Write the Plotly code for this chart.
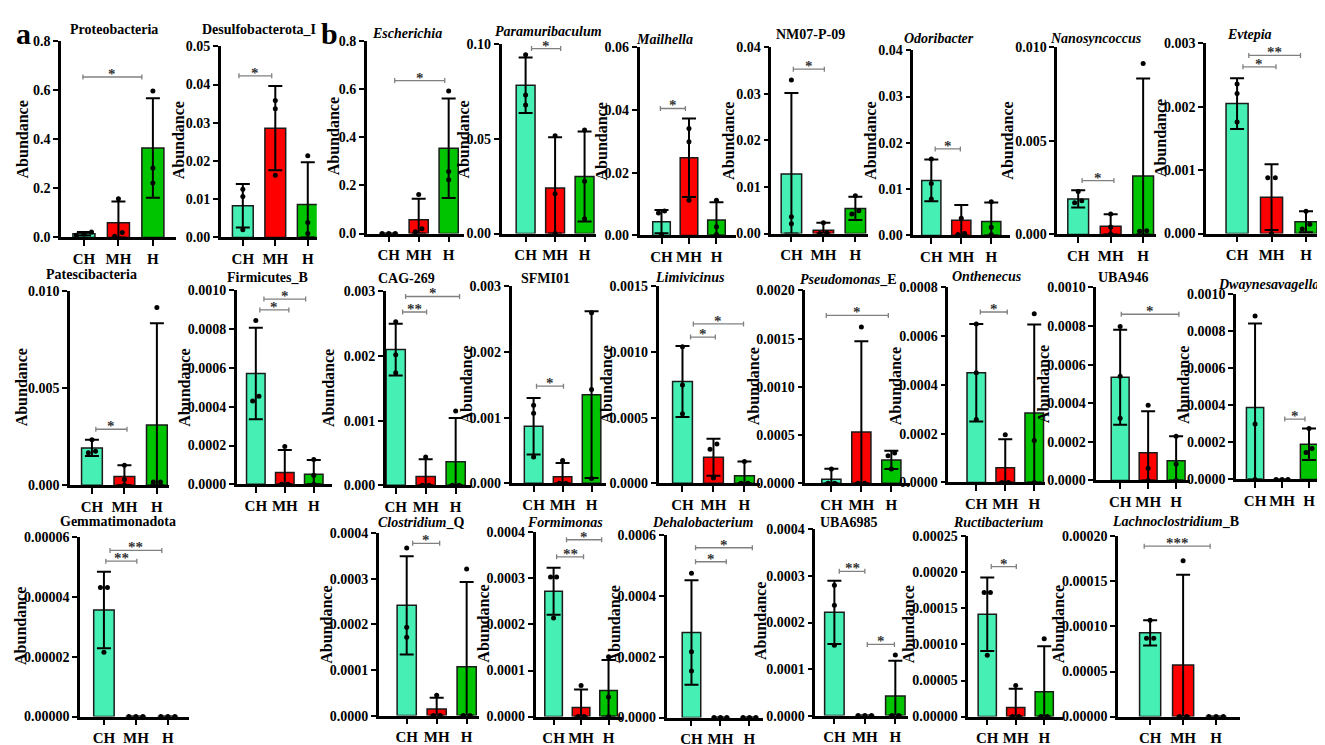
import plotly.graph_objects as go

W, H = 1325, 745
FONT = 'Liberation Serif'
TICK_SIZE = 14

groups = ['CH', 'MH', 'H']
group_colors = ['#46F0B4', '#FF0000', '#00C400']

# 패널 순서: 1행 a(2) + b(7), 2행 9개, 3행 7개
taxa = ['Proteobacteria', 'Desulfobacterota_I', '<i>Escherichia</i>', '<i>Paramuribaculum</i>',
        '<i>Mailhella</i>', 'NM07-P-09', '<i>Odoribacter</i>', '<i>Nanosyncoccus</i>', '<i>Evtepia</i>',
        'Patescibacteria', 'Firmicutes_B', 'CAG-269', 'SFMI01', '<i>Limivicinus</i>',
        '<i>Pseudomonas</i>_E', '<i>Onthenecus</i>', 'UBA946', '<i>Dwaynesavagella</i>',
        'Gemmatimonadota', '<i>Clostridium</i>_Q', '<i>Formimonas</i>', '<i>Dehalobacterium</i>',
        'UBA6985', '<i>Ructibacterium</i>', '<i>Lachnoclostridium</i>_B']

# y축 최대값 / 눈금 간격 / 소수 자리
y_max = [0.8, 0.05, 0.8, 0.10, 0.06, 0.04, 0.04, 0.010, 0.003,
         0.010, 0.0010, 0.003, 0.003, 0.0015, 0.0020, 0.0008, 0.0010, 0.0010,
         0.00006, 0.0004, 0.0004, 0.0006, 0.0004, 0.00025, 0.00020]
y_step = [0.2, 0.01, 0.2, 0.05, 0.02, 0.01, 0.01, 0.005, 0.001,
          0.005, 0.0002, 0.001, 0.001, 0.0005, 0.0005, 0.0002, 0.0002, 0.0002,
          0.00002, 0.0001, 0.0001, 0.0002, 0.0001, 0.00005, 0.00005]
y_dec = [1, 2, 1, 2, 2, 2, 2, 3, 3,
         3, 4, 3, 3, 4, 4, 4, 4, 4,
         5, 4, 4, 4, 4, 5, 5]

# 평균값
mean_ch = [0.015, 0.0083, 0.0, 0.0784, 0.0044, 0.0128, 0.0119, 0.0019, 0.00205,
           0.00193, 0.000571, 0.0021, 0.00087, 0.000776, 0.0000438, 0.00045, 0.000534, 0.000389,
           0.0000357, 0.000242, 0.000272, 0.00028, 0.000222, 0.000142, 0.0000929]
mean_mh = [0.06, 0.0286, 0.057, 0.0241, 0.0248, 0.0007, 0.0033, 0.00044, 0.000574,
           0.00045, 0.0000605, 0.000136, 0.0001, 0.000199, 0.000533, 0.0000605, 0.000144, 0.0,
           0.0, 0.0000144, 0.0000199, 0.0, 0.0, 0.0000127, 0.0000573]
mean_h = [0.365, 0.0086, 0.355, 0.0302, 0.0049, 0.0054, 0.003, 0.00313, 0.000186,
          0.00311, 0.0000521, 0.000363, 0.00135, 0.0000572, 0.000243, 0.000285, 0.000102, 0.00019,
          0.0, 0.000107, 0.0000568, 0.0, 0.0000421, 0.0000344, 0.0]

# 표준편차
sd_ch = [0.007, 0.0057, 0.0, 0.0147, 0.0037, 0.0174, 0.0045, 0.00046, 0.0004,
         0.00042, 0.000236, 0.0004, 0.00043, 0.00027, 0.000108, 0.0002, 0.000246, 0.000453,
         0.0000128, 0.000108, 0.000051, 0.000172, 0.000068, 0.000051, 0.000014]
sd_mh = [0.087, 0.011, 0.088, 0.0268, 0.0125, 0.0016, 0.0033, 0.00064, 0.00052,
         0.00059, 0.000116, 0.000267, 0.00021, 0.00014, 0.00094, 0.000117, 0.000215, 0.0,
         0.0, 0.000025, 0.000039, 0.0, 0.0, 0.000026, 0.0000999]
sd_h = [0.203, 0.0111, 0.207, 0.0238, 0.0057, 0.0025, 0.0041, 0.0052, 0.000166,
        0.00524, 0.000074, 0.00068, 0.00127, 0.00011, 0.000094, 0.000363, 0.000127, 0.000085,
        0.0, 0.000186, 0.000066, 0.0, 0.000076, 0.0000633, 0.0]

# 개별 샘플 값 (그룹당 3개)
dots_ch = [[0.022, 0.014, 0.009], [0.0126, 0.0107, 0.002], [0, 0, 0], [0.0945, 0.0733, 0.068],
           [0.0078, 0.0072, 0.0003], [0.033, 0.0036, 0.0021], [0.0165, 0.0112, 0.0079],
           [0.0023, 0.0018, 0.0017], [0.00236, 0.00221, 0.00176],
           [0.00235, 0.00176, 0.00168], [0.000845, 0.000454, 0.00043], [0.00253, 0.00202, 0.00174],
           [0.00119, 0.00107, 0.0004], [0.00104, 0.00075, 0.00053], [0.00015, 0, 0],
           [0.00065, 0.00045, 0.000258], [0.000797, 0.00054, 0.000322], [0.000882, 0.000299, 0],
           [0.0000432, 0.0000432, 0.0000215], [0.000368, 0.000194, 0.000172],
           [0.000303, 0.000303, 0.000214], [0.000475, 0.000217, 0.000153],
           [0.00028, 0.000237, 0.000151], [0.000172, 0.000172, 0.000085],
           [0.000107, 0.000087, 0.000087]]
dots_mh = [[0.158, 0.02, 0.005], [0.0358, 0.0337, 0.0163], [0.163, 0.02, 0.007], [0.0517, 0.021, 0],
           [0.0341, 0.0299, 0.0112], [0.0023, 0.0001, 0], [0.0037, 0.0004, 0.0002],
           [0.0011, 0.0004, 0.00003], [0.00088, 0.00088, 0],
           [0.00104, 0.0003, 0], [0.000195, 0, 0], [0.000439, 0, 0], [0.00035, 0, 0],
           [0.0003, 0.00026, 0.00004], [0.00162, 0, 0], [0.000195, 0, 0], [0.00039, 0.0000627, 0],
           [0, 0, 0], [0, 0, 0], [0.0000445, 0, 0], [0.0000675, 0, 0], [0, 0, 0], [0, 0, 0],
           [0.000043, 0, 0], [0.000173, 0, 0]]
dots_h = [[0.598, 0.283, 0.222], [0.0214, 0.0039, 0.001], [0.594, 0.258, 0.224],
          [0.0548, 0.0276, 0.0078], [0.0112, 0.0028, 0.0003], [0.0081, 0.0049, 0.0042],
          [0.0073, 0.0018, 0.0002], [0.00913, 0.0002, 0.00018], [0.00035, 0.000145, 0.00007],
          [0.00916, 0.00017, 0.00017], [0.000128, 0.000047, 0], [0.00115, 0, 0],
          [0.0026, 0.00143, 0.000075], [0.000167, 0, 0], [0.000314, 0.000287, 0.00015],
          [0.000692, 0.000172, 0], [0.000229, 0.0000847, 0], [0.000275, 0.000167, 0.000146],
          [0, 0, 0], [0.000322, 0, 0], [0.00013, 0.0000426, 0], [0, 0, 0], [0.00013, 0, 0],
          [0.000108, 0, 0], [0, 0, 0]]

# 유의성 표시: (시작 x, 끝 x, y, 라벨)
sig = [[(-0.03, 1.68, 0.655, '*')],
       [(-0.12, 0.89, 0.0423, '*')],
       [(0.2, 1.87, 0.637, '*')],
       [(0.2, 1.19, 0.0978, '*')],
       [(-0.04, 0.87, 0.0405, '*')],
       [(0.06, 1.03, 0.0353, '*')],
       [(0.13, 0.97, 0.0187, '*')],
       [(0.12, 1.1, 0.00288, '*')],
       [(0.17, 1.13, 0.00263, '*'), (0.34, 1.84, 0.00281, '**')],
       [(0.12, 1.08, 0.00289, '*')],
       [(0.14, 1.14, 0.000899, '*'), (0.28, 1.72, 0.000955, '*')],
       [(0.23, 1.03, 0.00268, '**'), (0.33, 2.13, 0.00292, '*')],
       [(0.1, 1.03, 0.00148, '*')],
       [(0.26, 1.06, 0.001114, '*'), (0.35, 1.97, 0.001214, '*')],
       [(-0.17, 1.9, 0.00174, '*')],
       [(0.14, 1.07, 0.000699, '*')],
       [(0.04, 2.1, 0.000861, '*')],
       [(1.1, 1.85, 0.000326, '*')],
       [(0.06, 1.03, 0.000052, '**'), (0.19, 1.81, 0.0000556, '**')],
       [(0.2, 1.1, 0.000378, '*')],
       [(0.11, 1.09, 0.000347, '**'), (0.47, 1.75, 0.000384, '*')],
       [(0.14, 1.2, 0.000513, '*'), (0.14, 2.1, 0.000559, '*')],
       [(0.16, 1.0, 0.00031, '**'), (1.08, 1.97, 0.000153, '*')],
       [(0.14, 1.02, 0.000208, '*')],
       [(-0.18, 1.82, 0.000189, '***')]]

# 패널 위치 (픽셀): 왼쪽, 오른쪽, 위, 아래(0), CH 중심, H 중심
panel_px = [(52, 167, 27, 227, 75, 144), (212, 308, 32, 227, 234, 299), (358, 455, 27, 223, 380, 440),
            (493, 587, 30, 223, 517, 576), (631, 728, 33, 225, 653, 708), (763, 860, 33, 223, 783, 847),
            (905, 1002, 36, 225, 923, 983), (1049, 1148, 33, 224, 1070, 1135), (1198, 1310, 29, 223, 1229, 1298),
            (61, 160, 282, 480, 83, 148), (228, 323, 281, 479, 247, 305), (377, 462, 282, 480, 387, 447),
            (503, 597, 277, 478, 525, 583), (650, 752, 277, 478, 674, 736), (797, 902, 281, 478, 823, 883),
            (940, 1037, 278, 477, 968, 1026), (1088, 1182, 278, 475, 1112, 1168), (1228, 1318, 285, 474, 1247, 1301),
            (71, 180, 533, 716, 95, 159), (370, 470, 529, 715, 398, 458), (527, 613, 528, 716, 545, 600),
            (658, 755, 531, 717, 683, 741), (807, 900, 525, 715, 826, 887), (960, 1055, 532, 716, 979, 1036),
            (1110, 1232, 532, 716, 1142, 1208)]
# 제목 위치 (픽셀 중심)
title_px = [(105, 15), (250, 15), (398, 19), (540, 17), (656, 25), (802, 20), (931, 24), (1088, 24), (1241, 20),
            (83, 265), (259, 268), (398, 269), (537, 269), (682, 268), (840, 270), (979, 267), (1115, 268), (1260, 275),
            (109, 517), (412, 518), (556, 518), (694, 518), (841, 518), (990, 518), (1167, 517)]
# y축 제목 위치 (픽셀 중심)
ytitle_px = [(13, 127), (170, 128), (325, 124), (459, 127), (599, 129), (720, 128), (862, 128), (999, 128), (1153, 126),
             (12, 380), (177, 380), (320, 381), (460, 377), (600, 377), (752, 379), (897, 379), (1043, 377), (1182, 378),
             (12, 623), (325, 622), (478, 621), (613, 622), (752, 618), (903, 622), (1052, 622)]


def spread(vals, span):
    # 겹치는 점을 옆으로 벌림
    xs = [0.0] * len(vals)
    order = sorted(range(len(vals)), key=lambda k: vals[k])
    clusters = []
    for k in order:
        if clusters and abs(vals[k] - vals[clusters[-1][-1]]) < 0.03 * span:
            clusters[-1].append(k)
        else:
            clusters.append([k])
    for c in clusters:
        for j, k in enumerate(c):
            xs[k] = (j - (len(c) - 1) / 2) * 0.22
    return xs


fig = go.Figure()
annotations = []
shapes = []

for i, name in enumerate(taxa):
    n = '' if i == 0 else str(i + 1)
    xa, ya = 'x' + n, 'y' + n
    left, right, top, bottom, c0, c2 = panel_px[i]
    step = (c2 - c0) / 2

    means = [mean_ch[i], mean_mh[i], mean_h[i]]
    sds = [sd_ch[i], sd_mh[i], sd_h[i]]
    fig.add_trace(go.Bar(
        x=[0, 1, 2], y=means, width=0.64,
        marker=dict(color=group_colors, line=dict(color='#1a1a1a', width=1.5)),
        error_y=dict(type='data', array=sds, arrayminus=[min(s, m) for s, m in zip(sds, means)],
                     color='black', thickness=2, width=7),
        xaxis=xa, yaxis=ya, showlegend=False, hoverinfo='skip'))

    xs, ys = [], []
    for g, vals in enumerate([dots_ch[i], dots_mh[i], dots_h[i]]):
        offs = spread(vals, y_max[i])
        xs += [g + o for o in offs]
        ys += vals
    fig.add_trace(go.Scatter(x=xs, y=ys, mode='markers', marker=dict(color='black', size=5),
                             cliponaxis=False, xaxis=xa, yaxis=ya, showlegend=False, hoverinfo='skip'))

    nt = int(round(y_max[i] / y_step[i]))
    tv = [k * y_step[i] for k in range(nt + 1)]
    tt = [f'{v:.{y_dec[i]}f}' for v in tv]

    fig.layout['xaxis' + n] = dict(
        domain=[left / W, right / W], anchor=ya, range=[-(c0 - left) / step, (right - c0) / step],
        tickvals=[0, 1, 2], ticktext=[f'<b>{g}</b>' for g in groups], tickangle=0,
        showline=True, linecolor='black', linewidth=2.5, ticks='outside', ticklen=6, tickwidth=2,
        tickcolor='black', showgrid=False, zeroline=False,
        tickfont=dict(family=FONT, size=15, color='black'), fixedrange=True)
    fig.layout['yaxis' + n] = dict(
        domain=[1 - bottom / H, 1 - top / H], anchor=xa, range=[0, y_max[i]],
        tickvals=tv, ticktext=[f'<b>{t}</b>' for t in tt], showline=True, linecolor='black', linewidth=2.5,
        ticks='outside', ticklen=5, tickwidth=2, tickcolor='black', showgrid=False, zeroline=False,
        tickfont=dict(family=FONT, size=TICK_SIZE, color='black'), fixedrange=True)

    tx, ty = title_px[i]
    annotations.append(dict(text=f'<b>{name}</b>', x=tx / W, y=1 - ty / H, xref='paper', yref='paper',
                            showarrow=False, xanchor='center', yanchor='middle',
                            font=dict(family=FONT, size=14, color='black')))

    # y축 제목: 눈금 라벨과 겹치지 않게
    label_w = TICK_SIZE * (0.5 * (len(tt[-1]) - 1) + 0.25)
    yx, yy = ytitle_px[i]
    yx = min(yx, left - 8 - label_w - 6)
    annotations.append(dict(text='<b>Abundance</b>', x=yx / W, y=1 - yy / H, xref='paper', yref='paper',
                            showarrow=False, xanchor='center', yanchor='middle', textangle=-90,
                            font=dict(family=FONT, size=16, color='black')))

    for x0, x1, yv, lab in sig[i]:
        shapes.append(dict(type='line', xref=xa, yref=ya, x0=x0, x1=x1, y0=yv, y1=yv,
                           line=dict(color='#808080', width=1.3)))
        for xe in (x0, x1):
            shapes.append(dict(type='line', xref=xa, yref=ya, x0=xe, x1=xe, ysizemode='pixel',
                               yanchor=yv, y0=-2.5, y1=2.5, line=dict(color='#808080', width=1.3)))
        annotations.append(dict(text=f'<b>{lab}</b>', x=(x0 + x1) / 2, y=yv, xref=xa, yref=ya,
                                showarrow=False, xanchor='center', yanchor='bottom', yshift=-7,
                                font=dict(family=FONT, size=15, color='#333333')))

# 패널 라벨 a, b
for lab, px in (('a', 15), ('b', 321)):
    annotations.append(dict(text=f'<b>{lab}</b>', x=px / W, y=1 - 19 / H, xref='paper', yref='paper',
                            showarrow=False, xanchor='center', yanchor='middle',
                            font=dict(family=FONT, size=30, color='black')))

fig.update_layout(width=W, height=H, margin=dict(l=0, r=0, t=0, b=0),
                  plot_bgcolor='white', paper_bgcolor='white',
                  font=dict(family=FONT, color='black'),
                  annotations=annotations, shapes=shapes, showlegend=False)

fig.write_html("out.html")
